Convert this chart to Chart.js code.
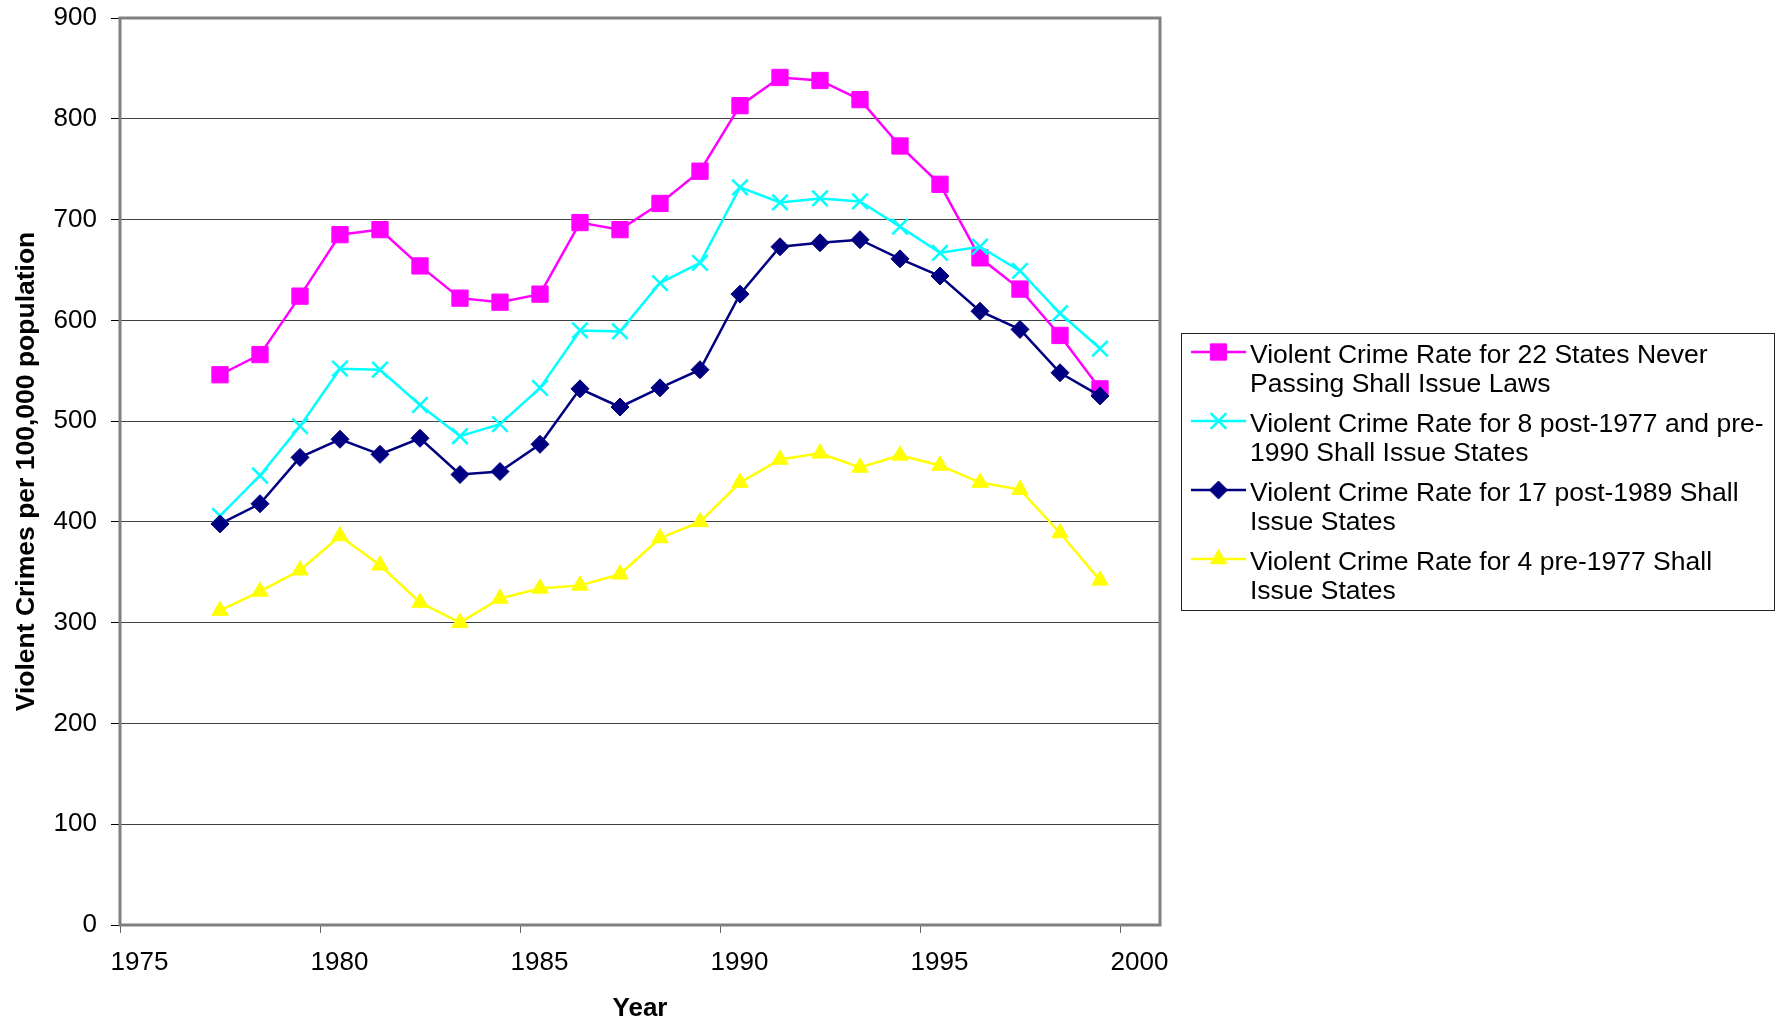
<!DOCTYPE html>
<html>
<head>
<meta charset="utf-8">
<title>Violent Crime Rates and Shall Issue Laws</title>
<script src="https://cdn.jsdelivr.net/npm/chart.js@4.4.0/dist/chart.umd.min.js"></script>
<style>
  html, body { margin: 0; padding: 0; background: #fff; }
  #wrap { width: 1782px; height: 1024px; }
</style>
</head>
<body>
<div id="wrap"><canvas id="crimeChart" width="1782" height="1024"></canvas></div>
<script>
// Years of the series; each rate is plotted at mid-year (year + 0.5)
const years = [1977, 1978, 1979, 1980, 1981, 1982, 1983, 1984, 1985, 1986, 1987, 1988,
               1989, 1990, 1991, 1992, 1993, 1994, 1995, 1996, 1997, 1998, 1999];

// Violent crimes per 100,000 population
const neverShallIssue = [546, 566, 624, 685, 690, 654, 622, 618, 626, 697, 690, 716,
                         748, 813, 841, 838, 819, 773, 735, 662, 631, 585, 532];
const post1977Pre1990 = [406, 446, 495, 552, 551, 516, 485, 497, 533, 590, 589, 637,
                         657, 732, 717, 721, 718, 693, 667, 673, 649, 607, 572];
const post1989 = [398, 418, 464, 482, 467, 483, 447, 450, 477, 532, 514, 533,
                  551, 626, 673, 677, 680, 661, 644, 609, 591, 548, 525];
const pre1977 = [312, 331, 352, 386, 357, 320, 300, 324, 334, 337, 348, 384,
                 400, 439, 462, 468, 454, 466, 456, 439, 432, 389, 342];

// Legend names, one entry per line of text
const seriesNames = [
  ['Violent Crime Rate for 22 States Never', 'Passing Shall Issue Laws'],
  ['Violent Crime Rate for 8 post-1977 and pre-', '1990 Shall Issue States'],
  ['Violent Crime Rate for 17 post-1989 Shall', 'Issue States'],
  ['Violent Crime Rate for 4 pre-1977 Shall', 'Issue States']
];

// Axis ranges, tick labels and titles
const xRange = [1975, 2001];
const xTickValues = [1975, 1980, 1985, 1990, 1995, 2000];
const yRange = [0, 900];
const yStep = 100;
const xAxisTitle = 'Year';
const yAxisTitle = 'Violent Crimes per 100,000 population';

const FONT = '"Liberation Sans", Arial, Helvetica, sans-serif';
Chart.defaults.font.family = FONT;
Chart.defaults.color = '#000';

const toPoints = vals => vals.map((v, i) => ({ x: years[i] + 0.5, y: v }));

function series(idx, values, color, style, radius, pointBorder, order) {
  return {
    label: seriesNames[idx].join(' '),
    lines: seriesNames[idx],
    data: toPoints(values),
    borderColor: color,
    backgroundColor: color,
    pointBackgroundColor: color,
    pointBorderColor: color,
    borderWidth: 2.5,
    pointStyle: style,
    pointRadius: radius,
    pointHoverRadius: radius,
    pointBorderWidth: pointBorder,
    tension: 0,
    fill: false,
    order: order
  };
}

// Grey frame around the plotting area
const plotFrame = {
  id: 'plotFrame',
  beforeDatasetsDraw(chart) {
    const { ctx, chartArea: a } = chart;
    ctx.save();
    ctx.strokeStyle = '#808080';
    ctx.lineWidth = 3;
    ctx.strokeRect(a.left, a.top, a.right - a.left, a.bottom - a.top);
    ctx.restore();
  }
};

// Boxed legend with wrapped, two-line entries
const boxLegend = {
  id: 'boxLegend',
  afterDraw(chart, args, o) {
    const ctx = chart.ctx;
    ctx.save();
    ctx.fillStyle = '#fff';
    ctx.fillRect(o.x, o.y, o.w, o.h);
    ctx.strokeStyle = '#222';
    ctx.lineWidth = 1;
    ctx.strokeRect(o.x + 0.5, o.y + 0.5, o.w, o.h);
    chart.data.datasets.forEach((ds, i) => {
      const base = o.firstBaseline + i * o.entryStep;
      const my = base - o.markerRise;
      ctx.strokeStyle = ds.borderColor;
      ctx.lineWidth = ds.borderWidth;
      ctx.beginPath();
      ctx.moveTo(o.x + o.lineStart, my);
      ctx.lineTo(o.x + o.lineEnd, my);
      ctx.stroke();
      ctx.fillStyle = ds.pointBackgroundColor;
      ctx.strokeStyle = ds.pointBorderColor;
      ctx.lineWidth = ds.pointBorderWidth;
      Chart.helpers.drawPoint(ctx, {
        pointStyle: ds.pointStyle,
        radius: ds.pointRadius,
        borderWidth: ds.pointBorderWidth,
        rotation: 0
      }, o.x + (o.lineStart + o.lineEnd) / 2, my);
      ctx.fillStyle = '#000';
      ctx.font = o.fontSize + 'px ' + FONT;
      ctx.textBaseline = 'alphabetic';
      ctx.textAlign = 'left';
      ds.lines.forEach((ln, k) => {
        ctx.fillText(ln, o.x + o.textX, base + k * o.lineStep);
      });
    });
    ctx.restore();
  }
};

// Keep the plot area edges fixed regardless of label overhang
const noOverhang = s => { s.paddingTop = 0; s.paddingBottom = 0; s.paddingLeft = 0; s.paddingRight = 0; };

new Chart(document.getElementById('crimeChart'), {
  type: 'line',
  data: {
    datasets: [
      series(0, neverShallIssue, '#FF00FF', 'rect', 11.5, 1, 4),
      series(1, post1977Pre1990, '#00FFFF', 'crossRot', 11, 2.5, 3),
      series(2, post1989, '#000080', 'rectRot', 9, 1, 2),
      series(3, pre1977, '#FFFF00', 'triangle', 9.5, 1, 1)
    ]
  },
  options: {
    responsive: false,
    animation: false,
    events: [],
    layout: { padding: { left: 0, top: 18, right: 622, bottom: 0 } },
    plugins: {
      legend: { display: false },
      tooltip: { enabled: false },
      boxLegend: {
        x: 1181, y: 333, w: 593, h: 277,
        lineStart: 10, lineEnd: 65, textX: 69,
        firstBaseline: 363, lineStep: 29, entryStep: 69,
        markerRise: 11, fontSize: 26.5
      }
    },
    scales: {
      x: {
        type: 'linear',
        min: xRange[0],
        max: xRange[1],
        afterBuildTicks: s => { s.ticks = xTickValues.map(v => ({ value: v })); },
        afterFit: s => { s.height = 99; noOverhang(s); },
        ticks: {
          padding: 14,
          labelOffset: 19.5,
          color: '#000',
          font: { size: 26 },
          maxRotation: 0,
          autoSkip: false,
          callback: v => String(v)
        },
        grid: {
          drawOnChartArea: false,
          drawTicks: true,
          tickLength: 8,
          tickColor: '#666',
          tickWidth: 1
        },
        border: { display: false },
        title: {
          display: true,
          text: xAxisTitle,
          color: '#000',
          font: { size: 26, weight: 'bold' },
          padding: { top: 0, bottom: 0 }
        }
      },
      y: {
        min: yRange[0],
        max: yRange[1],
        afterFit: s => { s.width = 120; noOverhang(s); },
        ticks: {
          stepSize: yStep,
          padding: 14,
          color: '#000',
          font: { size: 26 }
        },
        grid: {
          color: '#404040',
          lineWidth: 1,
          drawTicks: true,
          tickLength: 9,
          tickColor: '#000',
          tickWidth: 1
        },
        border: { display: false },
        title: {
          display: true,
          text: yAxisTitle,
          color: '#000',
          font: { size: 26.5, weight: 'bold' },
          padding: { top: 11, bottom: 0 }
        }
      }
    }
  },
  plugins: [plotFrame, boxLegend]
});
</script>
</body>
</html>
